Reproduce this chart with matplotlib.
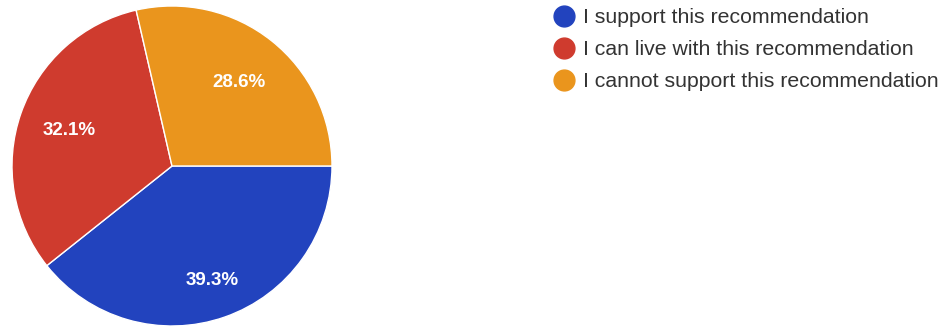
import matplotlib
matplotlib.use("Agg")
import matplotlib.pyplot as plt
from matplotlib.lines import Line2D
import numpy as np

labels = ["I support this recommendation",
          "I can live with this recommendation",
          "I cannot support this recommendation"]
values = [39.3, 32.1, 28.6]
colors = ["#2243BE", "#CF3B2E", "#EA951D"]
label_dist = [0.76, 0.68, 0.67]

plt.rcParams['font.family'] = ['Liberation Sans', 'DejaVu Sans']

W, H = 950, 330
fig = plt.figure(figsize=(W / 100, H / 100), dpi=100)
cx, cy, r = 172, 166, 160
ax = fig.add_axes([(cx - r) / W, (H - cy - r) / H, 2 * r / W, 2 * r / H])
wedges, texts, autotexts = ax.pie(values, colors=colors, startangle=0, counterclock=False,
                                  autopct='%1.1f%%', pctdistance=0.68,
                                  wedgeprops=dict(edgecolor='white', linewidth=1.0),
                                  textprops=dict(color='white', fontsize=13.5, fontweight='bold'))
for w, t, d in zip(wedges, autotexts, label_dist):
    ang = np.deg2rad((w.theta1 + w.theta2) / 2)
    t.set_position((d * np.cos(ang), d * np.sin(ang)))
ax.set_aspect('equal')
ax.set_xlim(-1, 1)
ax.set_ylim(-1, 1)

handles = [Line2D([], [], marker='o', linestyle='none', markersize=15,
                  markerfacecolor=c, markeredgecolor=c) for c in colors]
leg = fig.legend(handles, labels, loc='upper left', bbox_to_anchor=(553 / W, 1 - 8 / H),
                 frameon=False, fontsize=15.3, handletextpad=0.4, labelspacing=0.62,
                 handlelength=1.0, borderaxespad=0, borderpad=0.0)
for t in leg.get_texts():
    t.set_color('#333333')

fig.savefig("out.png", dpi=100, facecolor='white')
